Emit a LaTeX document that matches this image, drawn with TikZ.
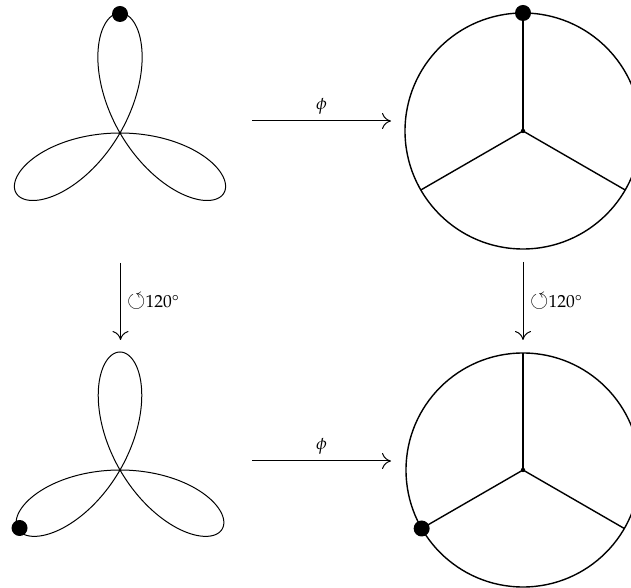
\documentclass[tikz,border=0pt]{standalone}
\usepackage[T1]{fontenc}
\usepackage{textcomp}
\usepackage{amssymb}
\usepackage{mathpazo}
\usetikzlibrary{arrows.meta,calc}
\newcommand{\rotsym}{\raisebox{-0.3pt}{\scalebox{1.3}{$\circlearrowleft$}}}
\begin{document}
\begin{tikzpicture}[x=1pt,y=1pt,
  curve/.style={line width=1pt},
  disc/.style={line width=1.4pt},
  spoke/.style={line width=1.4pt},
  mapto/.style={line width=1pt,-{To[length=9pt,width=16pt]}},
  lbl/.style={font=\fontsize{17.5}{21}\selectfont, inner sep=1pt},
  bigdot/.style={fill=black},
]
\useasboundingbox (0,0) rectangle (631,588);
% centres
\coordinate (T1) at (120,455);
\coordinate (T2) at (120,118);
\coordinate (C1) at (523,457);
\coordinate (C2) at (523,118);
% trefoils
\draw[curve,shift={(120,455)}] plot[domain=0:180,samples=301,smooth] (\x:{-120*sin(3*\x)});
\draw[curve,shift={(120,118)}] plot[domain=0:180,samples=301,smooth] (\x:{-118*sin(3*\x)});
% circles
\draw[disc] (C1) circle[radius=118];
\draw[disc] (C2) circle[radius=117];
\foreach \a in {90,210,330}{
  \draw[spoke] (C1) -- ++(\a:118);
  \draw[spoke] (C2) -- ++(\a:117);
}
\fill (C1) circle[radius=2.2];
\fill (C2) circle[radius=2.2];
% marked points
\fill[bigdot] ($(T1)+(90:119)$) circle[radius=8];
\fill[bigdot] ($(C1)+(90:118)$) circle[radius=8];
\fill[bigdot] ($(T2)+(210:116)$) circle[radius=8];
\fill[bigdot] ($(C2)+(210:117)$) circle[radius=8];
% arrow endpoints
\coordinate (h1a) at (252,467);
\coordinate (h1b) at (391,467);
\coordinate (h2a) at (252,127);
\coordinate (h2b) at (391,127);
\coordinate (v1a) at (120.5,325);
\coordinate (v1b) at (120.5,248);
\coordinate (v2a) at (523,326);
\coordinate (v2b) at (523,248);
\draw[mapto] (h1a) -- (h1b) node[lbl,midway,above=5pt] (phi1) {$\phi$};
\draw[mapto] (h2a) -- (h2b) node[lbl,midway,above=5pt] (phi2) {$\phi$};
\draw[mapto] (v1a) -- (v1b);
\draw[mapto] (v2a) -- (v2b);
\node[lbl,anchor=west] (r1) at (126,286) {\rotsym120\textdegree};
\node[lbl,anchor=west] (r2) at (529,286) {\rotsym120\textdegree};
\end{tikzpicture}
\end{document}
